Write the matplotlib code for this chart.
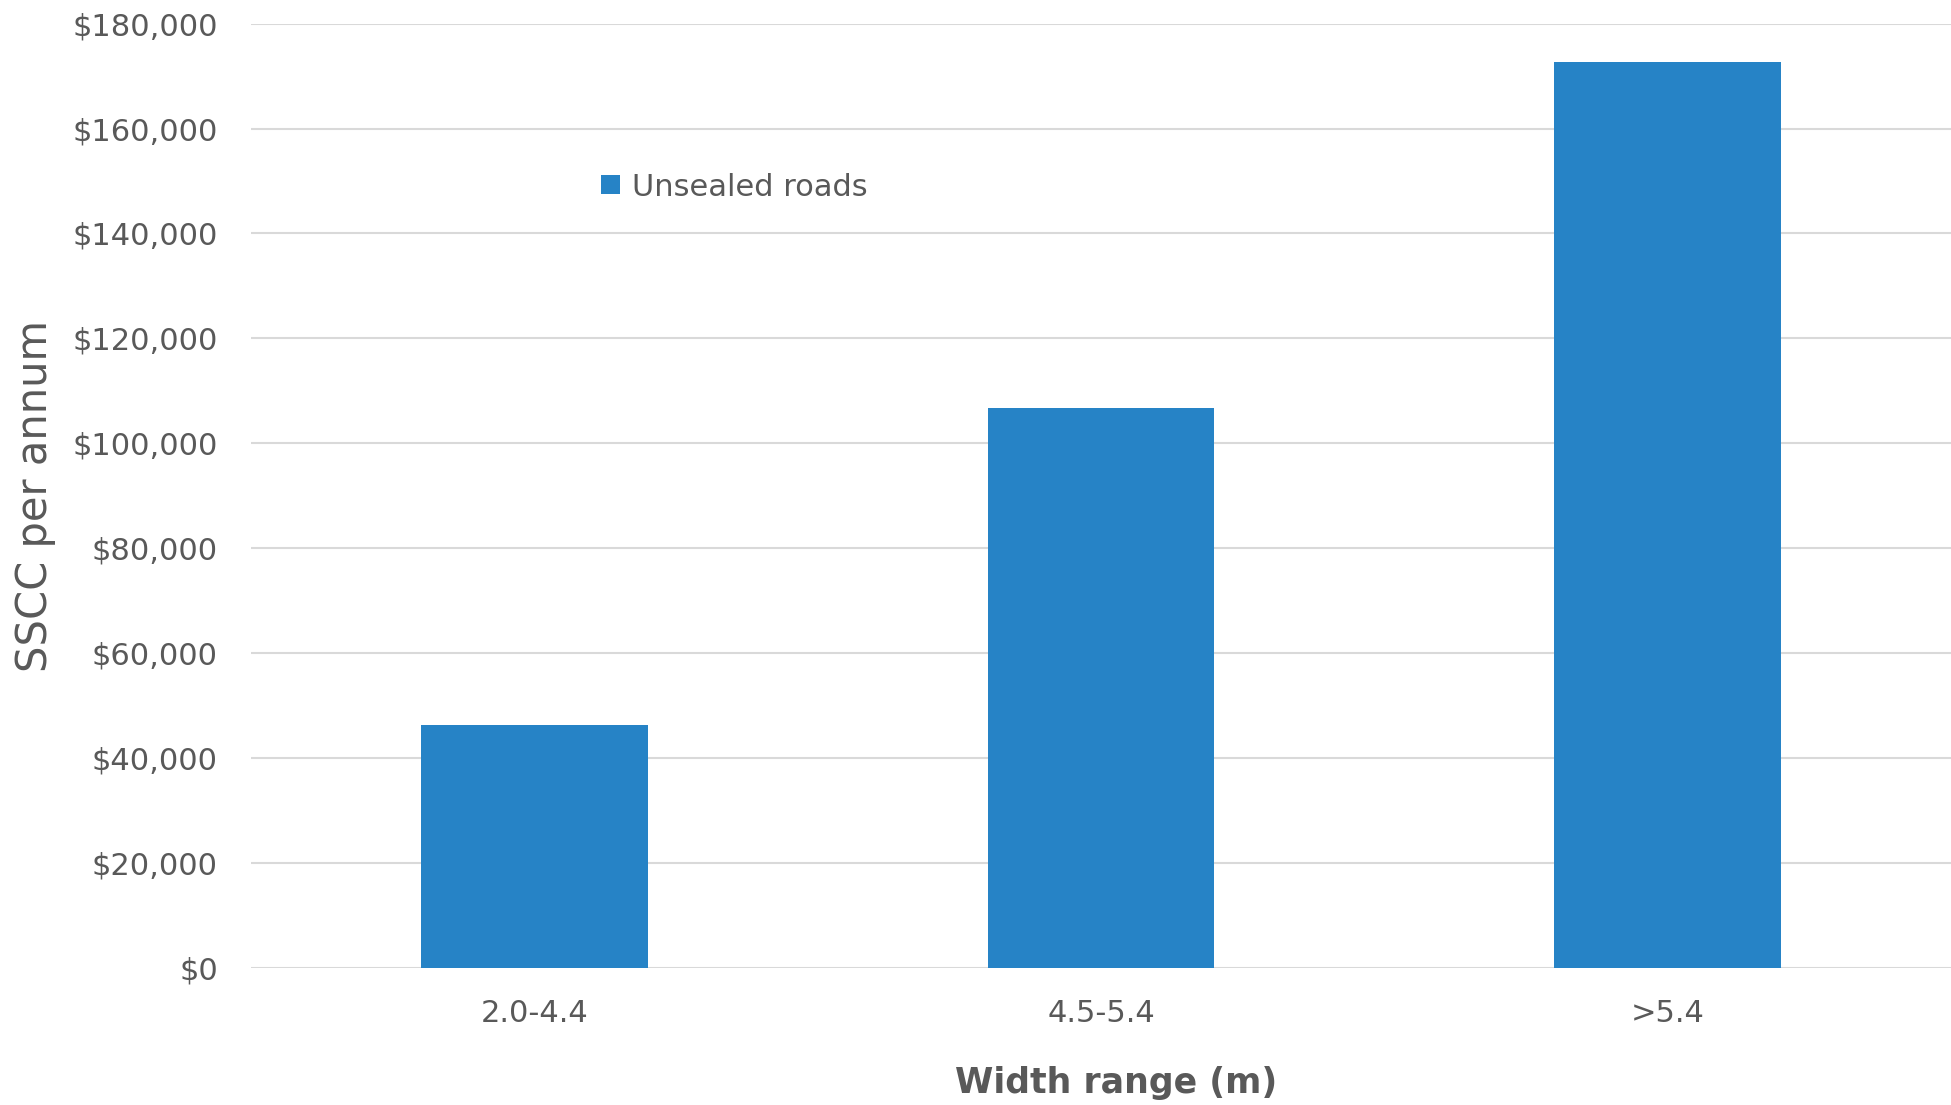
import matplotlib.pyplot as plt
from matplotlib.ticker import FuncFormatter

widths = ["2.0-4.4", "4.5-5.4", ">5.4"]
sscc = [46300, 106700, 172600]
yticks = [0, 20000, 40000, 60000, 80000, 100000, 120000, 140000, 160000, 180000]

txt = '#595959'
fig = plt.figure(figsize=(19.51, 11.05), dpi=100)
ax = fig.add_axes([0.1287, 0.124, 0.8713, 0.8546])

ax.bar(widths, sscc, width=0.4, color='#2683C6', label='Unsealed roads', zorder=3)

ax.set_xlim(-0.5, 2.5)
ax.set_ylim(0, 180000)
ax.set_yticks(yticks)
ax.yaxis.set_major_formatter(FuncFormatter(lambda v, p: '${:,.0f}'.format(v)))
ax.grid(axis='y', color='#d9d9d9', lw=1.5, zorder=0)
ax.grid(axis='x', visible=False)
for s in ax.spines.values():
    s.set_visible(False)
ax.tick_params(length=0, labelsize=22, labelcolor=txt)
ax.tick_params(axis='y', pad=24)
ax.tick_params(axis='x', pad=22)

ax.set_xlabel('Width range (m)', fontsize=25, fontweight='bold', color=txt, labelpad=28)
ax.xaxis.label.set_x(0.509)
ax.set_ylabel('SSCC per annum', fontsize=30, color=txt, labelpad=12)

ax.legend(loc='center left', bbox_to_anchor=(0.206, 0.827), frameon=False,
          fontsize=22, labelcolor=txt, handlelength=0.6, handleheight=0.6,
          handletextpad=0.4, borderpad=0, borderaxespad=0)

fig.savefig('out.png', dpi=100)
